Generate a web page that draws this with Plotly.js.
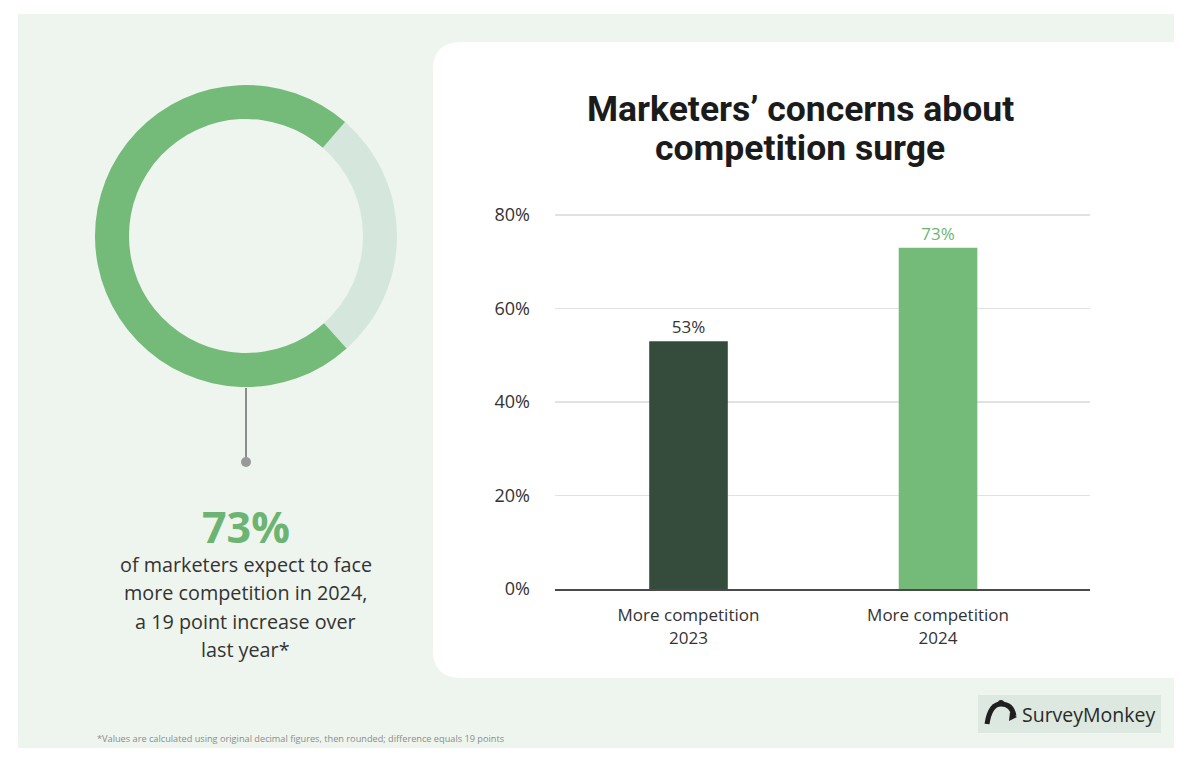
<!DOCTYPE html>
<html>
<head>
<meta charset="utf-8">
<script src="https://cdn.plot.ly/plotly-3.0.1.min.js"></script>
<style>
  html, body { margin: 0; padding: 0; background: #ffffff; }
  #chart { width: 1200px; height: 757px; }
</style>
</head>
<body>
<div id="chart"></div>
<script>
// ---- data ----
const barCategories = ['More competition<br>2023', 'More competition<br>2024'];
const barValues = [53, 73];
const yTickValues = [0, 20, 40, 60, 80];
const yTickLabels = ['0%', '20%', '40%', '60%', '80%'];
const donutLabels = ['Other', 'Expect more competition'];
const donutValues = [27, 73];
const headline = '73%';
const bodyLines = ['of marketers expect to face', 'more competition in 2024,', 'a 19 point increase over', 'last year*'];
const chartTitleLines = ['Marketers’ concerns about', 'competition surge'];
const footnote = '*Values are calculated using original decimal figures, then rounded; difference equals 19 points';
const brand = 'SurveyMonkey';

// ---- helpers (pixel -> paper) ----
const W = 1200, H = 757;
const px = x => x / W;
const py = y => 1 - y / H;
const P = (x, y) => px(x) + ',' + py(y);

const BODY = '"Open Sans", "DejaVu Sans", sans-serif';
const TITLE = 'Roboto, "Open Sans", sans-serif';

const bar = {
  type: 'bar',
  x: barCategories,
  y: barValues,
  width: 0.315,
  marker: { color: ['#354b3b', '#74bb79'] },
  text: barValues.map(v => v + '%'),
  textposition: 'outside',
  textfont: { family: BODY, size: 17, color: ['#333333', '#6db472'] },
  cliponaxis: false,
  hoverinfo: 'skip'
};

const donut = {
  type: 'pie',
  labels: donutLabels,
  values: donutValues,
  hole: 0.775,
  sort: false,
  direction: 'clockwise',
  rotation: 41,
  textinfo: 'none',
  marker: { colors: ['#d5e6dc', '#74bb79'], line: { width: 0 } },
  domain: { x: [px(95), px(397)], y: [py(387), py(85)] },
  hoverinfo: 'skip',
  showlegend: false
};

// rounded-left white card
const r = 28;
const cardPath = 'M ' + P(433 + r, 42) + ' L ' + P(1200, 42) + ' L ' + P(1200, 678) +
  ' L ' + P(433 + r, 678) + ' Q ' + P(433, 678) + ' ' + P(433, 678 - r) +
  ' L ' + P(433, 42 + r) + ' Q ' + P(433, 42) + ' ' + P(433 + r, 42) + ' Z';

// simple logo mark
const logoPath = 'M ' + P(987, 724) + ' Q ' + P(990, 704) + ' ' + P(1001, 704) +
  ' Q ' + P(1012, 704) + ' ' + P(1014, 716);

const shapes = [
  { type: 'rect', xref: 'paper', yref: 'paper', x0: px(18), x1: px(1174), y0: py(748), y1: py(14),
    fillcolor: '#eef5ee', line: { width: 0 }, layer: 'below' },
  { type: 'path', xref: 'paper', yref: 'paper', path: cardPath, fillcolor: '#ffffff', line: { width: 0 }, layer: 'below' },
  { type: 'line', xref: 'paper', yref: 'paper', x0: px(246), x1: px(246), y0: py(388), y1: py(460),
    line: { color: '#8c8c8c', width: 2 }, layer: 'below' },
  { type: 'circle', xref: 'paper', yref: 'paper', x0: px(241), x1: px(251), y0: py(467), y1: py(457),
    fillcolor: '#999999', line: { width: 0 }, layer: 'below' },
  { type: 'rect', xref: 'paper', yref: 'paper', x0: px(978), x1: px(1161), y0: py(733), y1: py(695),
    fillcolor: '#dce8e0', line: { width: 0 }, layer: 'below' },
  { type: 'path', xref: 'paper', yref: 'paper', path: logoPath, line: { color: '#1f1f1f', width: 5 } },
  { type: 'circle', xref: 'paper', yref: 'paper', x0: px(998), x1: px(1004), y0: py(706), y1: py(700),
    fillcolor: '#1f1f1f', line: { width: 0 } },
  { type: 'path', xref: 'paper', yref: 'paper', path: 'M ' + P(1010, 712) + ' L ' + P(1017, 717) + ' L ' + P(1009, 721) + ' Z',
    fillcolor: '#1f1f1f', line: { width: 0 } }
];

const ann = (text, x, y, size, color, opts) => Object.assign({
  text: text, xref: 'paper', yref: 'paper', x: px(x), y: py(y), showarrow: false,
  xanchor: 'center', yanchor: 'middle', font: { family: BODY, size: size, color: color }
}, opts || {});

const annotations = [
  ann('<b>' + headline + '</b>', 246, 526, 43, '#6db472', { font: { family: BODY, size: 43, color: '#6db472', weight: 700 } }),
  ...bodyLines.map((t, i) => ann(t, 246, 564 + i * 28.5, 19.8, '#333333')),
  ann(chartTitleLines[0], 800, 109, 35.5, '#1b1b1b', { font: { family: TITLE, size: 35.5, color: '#1b1b1b', weight: 700 } }),
  ann(chartTitleLines[1], 800, 148, 35.5, '#1b1b1b', { font: { family: TITLE, size: 35.5, color: '#1b1b1b', weight: 700 } }),
  ann(footnote, 95, 738, 9.2, '#8c8c8c', { xanchor: 'left' }),
  ann(brand, 1020, 714, 19.5, '#2a2a2a', { xanchor: 'left', font: { family: BODY, size: 19.5, color: '#2a2a2a', weight: 500 } })
];

const layout = {
  width: W, height: H,
  margin: { l: 0, r: 0, t: 0, b: 0, pad: 0 },
  paper_bgcolor: '#ffffff',
  plot_bgcolor: 'rgba(0,0,0,0)',
  showlegend: false,
  hovermode: false,
  xaxis: {
    domain: [px(555), px(1090)],
    range: [-0.535, 1.609],
    type: 'category',
    showline: true, linecolor: '#4a4a4a', linewidth: 2,
    showgrid: false, zeroline: false, ticks: '',
    ticklabelstandoff: 10,
    tickfont: { family: BODY, size: 17, color: '#333333' },
    fixedrange: true
  },
  yaxis: {
    domain: [py(589), py(212.7)],
    range: [0, 80.5],
    tickmode: 'array',
    tickvals: yTickValues,
    ticktext: yTickLabels,
    showgrid: true, gridcolor: '#e2e2e2', gridwidth: 1.5,
    zeroline: false, showline: false, ticks: '',
    ticklabelstandoff: 24,
    tickfont: { family: BODY, size: 18, color: '#333333' },
    fixedrange: true
  },
  shapes: shapes,
  annotations: annotations
};

Plotly.newPlot('chart', [bar, donut], layout, { staticPlot: true, displayModeBar: false });
</script>
</body>
</html>
